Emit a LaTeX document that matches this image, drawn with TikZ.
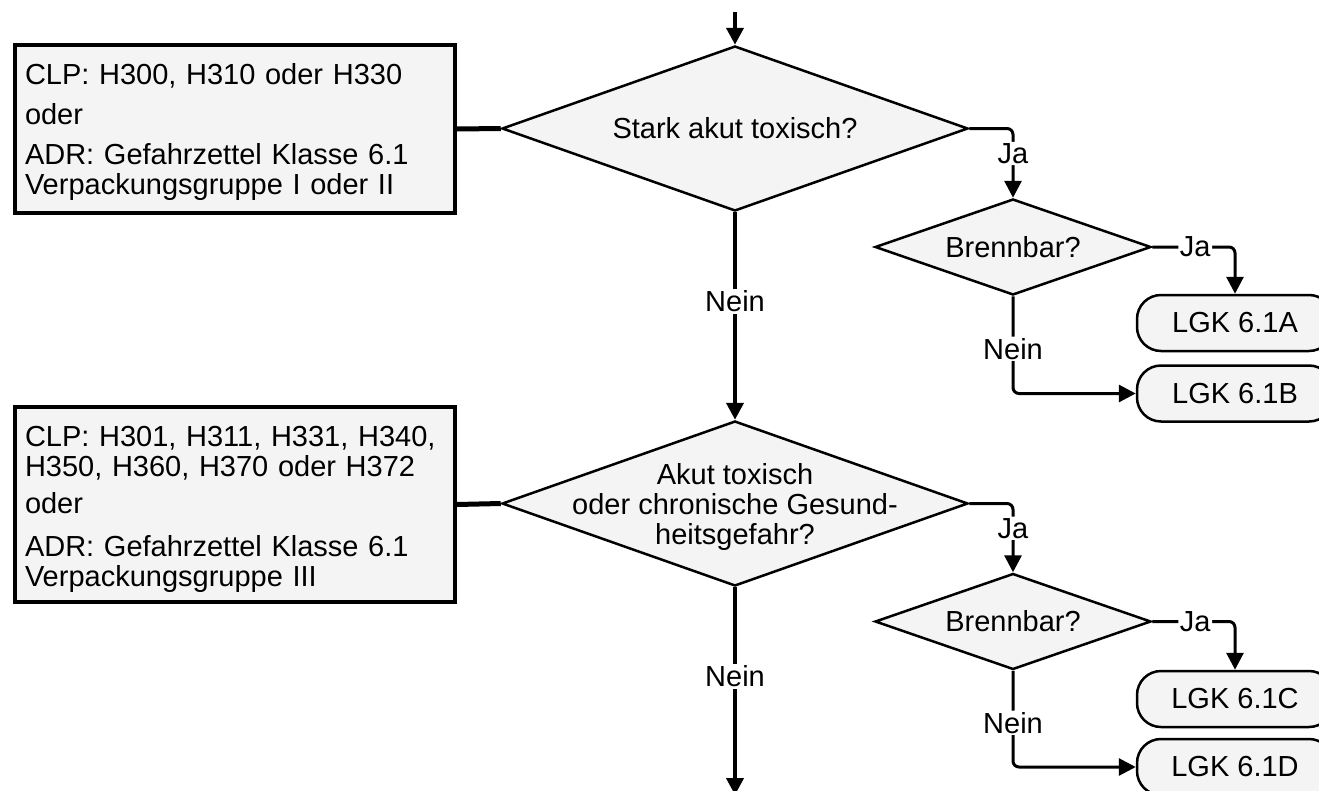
\documentclass[tikz,border=0pt]{standalone}
\usepackage{fontspec}
\setmainfont{Liberation Sans}
\usetikzlibrary{shapes.geometric,arrows.meta}
\definecolor{boxfill}{HTML}{F4F4F4}
\begin{document}
\begin{tikzpicture}[x=1pt,y=-1pt,
  every node/.style={font=\fontsize{29}{30}\selectfont},
  conbox/.style={draw, line width=3.5pt, fill=boxfill, align=left, text width=420pt, inner xsep=10pt, inner ysep=0pt},
  dia/.style={diamond, draw, line width=2.5pt, fill=boxfill, inner sep=0pt},
  lgk/.style={draw, line width=2.5pt, fill=boxfill, rounded corners=24pt, minimum width=196pt, minimum height=56pt, inner sep=0pt},
  flow/.style={line width=4pt, -{Triangle[length=17pt,width=17pt]}},
  branch/.style={line width=3pt, rounded corners=6pt, -{Triangle[length=17pt,width=17pt]}},
  link/.style={line width=5pt},
  lbl/.style={fill=white, inner sep=1.5pt}]
\useasboundingbox (0,0) rectangle (1319,790);
\clip (0,0) rectangle (1319,790);

% condition boxes
\node[conbox, minimum height=168pt] (c1) at (235,129)
  {\rule{0pt}{30pt}CLP: H300, H310 oder H330\\[10pt]
   oder\\[10pt]
   ADR: Gefahrzettel Klasse 6.1\\
   Verpackungsgruppe I oder II\rule[-10pt]{0pt}{10pt}};
\node[conbox, minimum height=195pt] (c2) at (235,504.5)
  {\rule{0pt}{31pt}CLP: H301, H311, H331, H340,\\
   H350, H360, H370 oder H372\\[7pt]
   oder\\[13pt]
   ADR: Gefahrzettel Klasse 6.1\\
   Verpackungsgruppe III\rule[-7pt]{0pt}{7pt}};

% main decisions
\node[dia, minimum width=466pt, minimum height=165pt,
  label={center:Stark akut toxisch?}] (d1) at (735,128.5) {};
\node[dia, minimum width=466pt, minimum height=165pt,
  label={[align=center, yshift=-3pt]center:{Akut toxisch\\oder chronische Gesund-\\heitsgefahr?}}] (d2) at (735,503.5) {};

% flammability decisions
\node[dia, minimum width=276pt, minimum height=96pt, label={center:Brennbar?}] (b1) at (1013,247) {};
\node[dia, minimum width=276pt, minimum height=96pt, label={center:Brennbar?}] (b2) at (1013,621.5) {};

% results
\node[lgk] (la) at (1235,323) {LGK 6.1A};
\node[lgk] (lb) at (1235,393.5) {LGK 6.1B};
\node[lgk] (lc) at (1235,699) {LGK 6.1C};
\node[lgk] (ld) at (1235,767) {LGK 6.1D};

\coordinate (top) at (735,12);
\coordinate (bot) at (735,795);

% connectors
\draw[flow] (top) -- (d1.north);
\draw[flow] (d1.south) -- node[lbl,pos=0.43]{Nein} (d2.north);
\draw[flow] (d2.south) -- node[lbl,pos=0.43]{Nein} (bot);
\draw[link] (c1.east) -- (d1.west);
\draw[link] (c2.east) -- (d2.west);

\draw[branch] (d1.east) -| node[lbl,pos=0.68]{Ja} (b1.north);
\draw[branch] (b1.east) -| node[lbl,pos=0.26]{Ja} (la.north);
\draw[branch] (b1.south) |- node[lbl,pos=0.27]{Nein} (lb.west);

\draw[branch] (d2.east) -| node[lbl,pos=0.68]{Ja} (b2.north);
\draw[branch] (b2.east) -| node[lbl,pos=0.26]{Ja} (lc.north);
\draw[branch] (b2.south) |- node[lbl,pos=0.27]{Nein} (ld.west);
\end{tikzpicture}
\end{document}
